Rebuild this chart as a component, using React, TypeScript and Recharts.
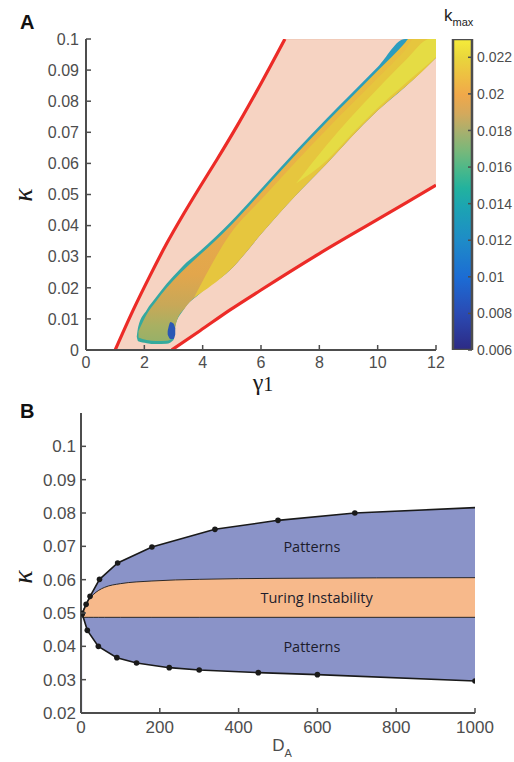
import React from 'react'
import { ComposedChart, BarChart, Bar, Area, Line, XAxis, YAxis, ReferenceDot } from 'recharts'

// ---------- panel A ----------
const GAMMA_TICKS = [0, 2, 4, 6, 8, 10, 12]
const KAPPA_TICKS_A = [0, 0.01, 0.02, 0.03, 0.04, 0.05, 0.06, 0.07, 0.08, 0.09, 0.1]

// unstable (pink) region
const PINK_G = [1, 1.62, 2.2, 2.77, 2.94, 3.91, 4.48, 5.2, 6, 6.82, 8, 10, 12]
const PINK_LO = [0, 0, 0, 0, 0, 0.0062, 0.0098, 0.0145, 0.0193, 0.0244, 0.031, 0.042, 0.053]
const PINK_HI = [0, 0.0129, 0.024, 0.0343, 0.0373, 0.0525, 0.0611, 0.0724, 0.0857, 0.1, 0.1, 0.1, 0.1]

// red boundary curves
const RED_LEFT_G = [1, 1.62, 2.2, 2.77, 3.35, 3.91, 4.48, 5.2, 6, 6.82]
const RED_LEFT_K = [0, 0.0129, 0.024, 0.0343, 0.0438, 0.0525, 0.0611, 0.0724, 0.0857, 0.1]
const RED_RIGHT_G = [2.94, 3.91, 4.94, 6, 8, 10, 12]
const RED_RIGHT_K = [0, 0.0062, 0.0129, 0.0193, 0.031, 0.042, 0.053]

// k_max band, outer (teal) edge
const BAND_G = [1.74, 1.79, 2.08, 2.4, 2.77, 3.0, 3.05, 3.34, 3.91, 4.94, 6.07, 7.22, 8.26, 9.05, 10.0, 10.94, 12.0]
const BAND_LO = [0.0043, 0.0028, 0.0022, 0.0019, 0.002, 0.0032, 0.0075, 0.0129, 0.0182, 0.0257, 0.038, 0.05, 0.06, 0.068, 0.077, 0.0846, 0.094]
const BAND_HI = [0.0043, 0.0075, 0.0129, 0.017, 0.0214, 0.0238, 0.0243, 0.0272, 0.0318, 0.041, 0.0525, 0.0643, 0.0745, 0.082, 0.091, 0.1, 0.1]

// inside the teal rim
const MID_G = [1.8, 2.08, 2.4, 2.77, 3.0, 3.1, 3.4, 3.91, 4.94, 6.07, 7.22, 8.26, 9.05, 10.0, 10.94, 11.05, 12.0]
const MID_LO = [0.004, 0.0032, 0.0029, 0.003, 0.0042, 0.009, 0.0136, 0.0184, 0.0257, 0.038, 0.05, 0.06, 0.068, 0.077, 0.0846, 0.0855, 0.094]
const MID_HI = [0.006, 0.0114, 0.0156, 0.02, 0.0224, 0.0234, 0.0262, 0.0306, 0.0398, 0.0513, 0.0631, 0.0733, 0.0808, 0.0898, 0.0988, 0.1, 0.1]

// yellow-ochre core
const CORE_G = [3.7, 4.94, 6.07, 7.22, 8.26, 9.05, 10.0, 10.94, 11.25, 12.0]
const CORE_LO = [0.0168, 0.0258, 0.0381, 0.0501, 0.0601, 0.0681, 0.0771, 0.0847, 0.0872, 0.094]
const CORE_HI = [0.0168, 0.0372, 0.049, 0.0608, 0.071, 0.0785, 0.0875, 0.0965, 0.1, 0.1]

// bright yellow streak
const BRIGHT_G = [7.2, 8.26, 9.05, 10.0, 10.94, 11.8, 12.0]
const BRIGHT_LO = [0.0535, 0.061, 0.0688, 0.0778, 0.0856, 0.0925, 0.0942]
const BRIGHT_HI = [0.0535, 0.066, 0.0745, 0.084, 0.093, 0.1, 0.1]

// dark blue spot near the tip
const SPOT_G = [2.8, 2.9, 3.0, 3.06]
const SPOT_LO = [0.005, 0.0035, 0.0035, 0.005]
const SPOT_HI = [0.006, 0.009, 0.0085, 0.007]

// colorbar
const CBAR_RANGE = [0.006, 0.023]
const CBAR_TICKS = [0.006, 0.008, 0.01, 0.012, 0.014, 0.016, 0.018, 0.02, 0.022]

// ---------- panel B ----------
const D_TICKS = [0, 200, 400, 600, 800, 1000]
const KAPPA_TICKS_B = [0.02, 0.03, 0.04, 0.05, 0.06, 0.07, 0.08, 0.09, 0.1]

const UPPER_D = [3, 13, 23, 47, 93, 180, 340, 500, 695, 1000]
const UPPER_K = [0.0498, 0.0526, 0.055, 0.0601, 0.065, 0.0698, 0.0751, 0.0778, 0.08, 0.0816]
const LOWER_D = [3, 16, 44, 91, 141, 224, 300, 450, 600, 1000]
const LOWER_K = [0.0498, 0.0448, 0.04, 0.0366, 0.035, 0.0336, 0.0329, 0.0321, 0.0315, 0.0296]

const TURING_D = [3, 10, 20, 31, 45, 60, 100, 180, 300, 500, 1000]
const TURING_HI = [0.0498, 0.052, 0.054, 0.0555, 0.0568, 0.0577, 0.0588, 0.0596, 0.0601, 0.0604, 0.0606]
const TURING_FLOOR = 0.0487

const REGION_TEXT = ['Patterns', 'Turing Instability', 'Patterns']
const REGION_D = [586, 598, 586]
const REGION_K = [0.0697, 0.0545, 0.0398]

const range = (xs: number[], lo: number[], hi: number[], key: string) =>
  xs.map((x, i) => ({ [key]: x, range: [lo[i], hi[i]] }))
const pts = (xs: number[], ys: number[], key: string) => xs.map((x, i) => ({ [key]: x, k: ys[i] }))

const pink = range(PINK_G, PINK_LO, PINK_HI, 'g')
const band = range(BAND_G, BAND_LO, BAND_HI, 'g')
const mid = range(MID_G, MID_LO, MID_HI, 'g')
const core = range(CORE_G, CORE_LO, CORE_HI, 'g')
const bright = range(BRIGHT_G, BRIGHT_LO, BRIGHT_HI, 'g')
const spot = range(SPOT_G, SPOT_LO, SPOT_HI, 'g')
const redLeft = pts(RED_LEFT_G, RED_LEFT_K, 'g')
const redRight = pts(RED_RIGHT_G, RED_RIGHT_K, 'g')

const upper = pts(UPPER_D, UPPER_K, 'd')
const lower = pts(LOWER_D, LOWER_K, 'd')
const turing = TURING_D.map((d, i) => ({ d, range: [TURING_FLOOR, TURING_HI[i]] }))

const AX = '#4d4d4d'
const SANS = '"Liberation Sans", Arial, Helvetica, sans-serif'
const SERIF = '"Liberation Serif", "DejaVu Serif", serif'

const leftTick = (fontSize: number, gap: number) => (p: any) => (
  <g>
    <line x1={p.x} y1={p.y} x2={p.x + 5} y2={p.y} stroke={AX} strokeWidth={1.5} />
    <text x={p.x - gap} y={p.y} dy="0.36em" textAnchor="end" fontSize={fontSize} fontFamily={SANS} fill={AX}>
      {String(p.payload.value)}
    </text>
  </g>
)
const bottomTick = (fontSize: number, gap: number) => (p: any) => (
  <g>
    <line x1={p.x} y1={p.y} x2={p.x} y2={p.y - 5} stroke={AX} strokeWidth={1.5} />
    <text x={p.x} y={p.y + gap} textAnchor="middle" fontSize={fontSize} fontFamily={SANS} fill={AX}>
      {String(p.payload.value)}
    </text>
  </g>
)
const topTick = (p: any) => <line x1={p.x} y1={p.y} x2={p.x} y2={p.y + 5} stroke={AX} strokeWidth={1.5} />
const rightTick = (p: any) => <line x1={p.x} y1={p.y} x2={p.x - 5} y2={p.y} stroke={AX} strokeWidth={1.5} />
const cbarTick = (p: any) => (
  <g>
    <line x1={p.x} y1={p.y} x2={p.x - 4} y2={p.y} stroke={AX} strokeWidth={1.5} />
    <text x={p.x + 5} y={p.y} dy="0.36em" fontSize={14} fontFamily={SANS} fill={AX}>
      {String(p.payload.value)}
    </text>
  </g>
)

const kappaLabel = (dy: number) => (p: any) => {
  const vb = p.viewBox
  const x = vb.x + 24
  const y = vb.y + dy
  return (
    <text x={x} y={y} transform={`rotate(-90 ${x} ${y})`} textAnchor="middle" dy="0.3em"
      fontSize={28} fontStyle="italic" fontFamily={SERIF} fill="#1a1a1a">
      κ
    </text>
  )
}

const gammaLabel = (p: any) => {
  const vb = p.viewBox
  return (
    <text x={vb.x + vb.width / 2 + 2} y={vb.y + 40} textAnchor="middle" fontFamily={SERIF} fill="#1a1a1a">
      <tspan fontSize={24}>γ</tspan>
      <tspan fontSize={20} dy={1}>1</tspan>
    </text>
  )
}

const dALabel = (p: any) => {
  const vb = p.viewBox
  return (
    <text x={vb.x + vb.width / 2 + 4} y={vb.y + 38} textAnchor="middle" fontFamily={SANS} fill={AX}>
      <tspan fontSize={17}>D</tspan>
      <tspan fontSize={11} dy={6}>A</tspan>
    </text>
  )
}

const regionLabel = (text: string) => (p: any) => {
  const vb = p.viewBox
  return (
    <text x={vb.x + vb.width / 2} y={vb.y + vb.height / 2} dy="0.35em" textAnchor="middle"
      fontSize={14.5} fontFamily='"Open Sans", "Noto Sans", sans-serif' fill="#1c1c2c">
      {text}
    </text>
  )
}

const upperDot = (p: any) =>
  p.index === UPPER_D.length - 1 ? <g key={p.index} /> : <circle key={p.index} cx={p.cx} cy={p.cy} r={2.8} fill="#1a1a1a" />
const lowerDot = (p: any) => <circle key={p.index} cx={p.cx} cy={p.cy} r={2.8} fill="#1a1a1a" />

function PanelA() {
  return (
    <ComposedChart width={450} height={400} margin={{ top: 39, right: 14, bottom: 20, left: 0 }}>
      <defs>
        <linearGradient id="midGrad" x1="0" y1="0" x2="0" y2="1">
          <stop offset="0%" stopColor="#e8c040" />
          <stop offset="55%" stopColor="#e9ae48" />
          <stop offset="78%" stopColor="#e2a64c" />
          <stop offset="88%" stopColor="#c8a858" />
          <stop offset="95%" stopColor="#a8b062" />
          <stop offset="100%" stopColor="#98b068" />
        </linearGradient>
        <linearGradient id="rimGrad" x1="0" y1="0" x2="0" y2="1">
          <stop offset="0%" stopColor="#2b9cc0" />
          <stop offset="100%" stopColor="#36aa9c" />
        </linearGradient>
      </defs>
      <Area data={pink} dataKey="range" type="linear" fill="#f6d3c2" fillOpacity={1} stroke="#ecc3b0" strokeWidth={1} isAnimationActive={false} />
      <Area data={band} dataKey="range" type="monotone" fill="url(#rimGrad)" fillOpacity={1} stroke="none" isAnimationActive={false} />
      <Area data={mid} dataKey="range" type="monotone" fill="url(#midGrad)" fillOpacity={1} stroke="none" isAnimationActive={false} />
      <Area data={core} dataKey="range" type="monotone" fill="#e6c63e" fillOpacity={1} stroke="none" isAnimationActive={false} />
      <Area data={bright} dataKey="range" type="monotone" fill="#e5dc44" fillOpacity={1} stroke="none" isAnimationActive={false} />
      <Area data={spot} dataKey="range" type="monotone" fill="#2b58b4" fillOpacity={1} stroke="none" isAnimationActive={false} />
      <Line data={redLeft} dataKey="k" type="monotone" stroke="#ec2b27" strokeWidth={3.2} dot={false} isAnimationActive={false} />
      <Line data={redRight} dataKey="k" type="monotone" stroke="#ec2b27" strokeWidth={3.2} dot={false} isAnimationActive={false} />
      <XAxis type="number" dataKey="g" domain={[0, 12]} ticks={GAMMA_TICKS} interval={0} allowDataOverflow
        height={30} tickSize={0} tickMargin={0} tickLine={false} axisLine={{ stroke: AX, strokeWidth: 2 }}
        tick={bottomTick(16, 18)} label={{ content: gammaLabel }} />
      <YAxis type="number" domain={[0, 0.1]} ticks={KAPPA_TICKS_A} interval={0} allowDataOverflow
        width={86} tickSize={0} tickMargin={0} tickLine={false} axisLine={{ stroke: AX, strokeWidth: 2 }}
        tick={leftTick(16, 7)} label={{ content: kappaLabel(156) }} />
    </ComposedChart>
  )
}

function ColorBar() {
  return (
    <BarChart width={69} height={400} data={[{ name: 'kmax', span: CBAR_RANGE }]}
      margin={{ top: 39, right: 0, bottom: 50, left: 8 }} barCategoryGap={0} barGap={0}>
      <defs>
        <linearGradient id="parula" x1="0" y1="0" x2="0" y2="1">
          <stop offset="0%" stopColor="#f6ec3a" />
          <stop offset="6%" stopColor="#e9d63c" />
          <stop offset="12%" stopColor="#eebf42" />
          <stop offset="18%" stopColor="#f0a84a" />
          <stop offset="24%" stopColor="#d4a95c" />
          <stop offset="30%" stopColor="#a6b06e" />
          <stop offset="36%" stopColor="#78b87a" />
          <stop offset="42%" stopColor="#4ab88a" />
          <stop offset="48%" stopColor="#22b29e" />
          <stop offset="54%" stopColor="#1ca4b2" />
          <stop offset="65%" stopColor="#1e8bc8" />
          <stop offset="77%" stopColor="#1c6bd4" />
          <stop offset="88%" stopColor="#2a4bb4" />
          <stop offset="100%" stopColor="#2d2a84" />
        </linearGradient>
      </defs>
      <XAxis dataKey="name" hide />
      <YAxis orientation="right" type="number" domain={[0.006, 0.023]} ticks={CBAR_TICKS} interval={0} allowDataOverflow
        width={42} tickSize={0} tickMargin={0} tickLine={false} axisLine={false} tick={cbarTick} />
      <Bar dataKey="span" fill="url(#parula)" stroke={AX} strokeWidth={2.5} isAnimationActive={false} />
    </BarChart>
  )
}

function PanelB() {
  return (
    <ComposedChart width={514} height={382} margin={{ top: 33, right: 39, bottom: 19, left: 0 }}>
      <Area data={upper} dataKey="k" type="linear" baseValue={0.02} fill="#8a93c8" fillOpacity={1} stroke="none" isAnimationActive={false} />
      <Area data={lower} dataKey="k" type="linear" baseValue={0.02} fill="#ffffff" fillOpacity={1} stroke="none" isAnimationActive={false} />
      <Area data={turing} dataKey="range" type="monotone" fill="#f7b98b" fillOpacity={1} stroke="#1a1a1a" strokeWidth={0.9} isAnimationActive={false} />
      <Line data={upper} dataKey="k" type="linear" stroke="#1a1a1a" strokeWidth={1.6} dot={upperDot} isAnimationActive={false} />
      <Line data={lower} dataKey="k" type="linear" stroke="#1a1a1a" strokeWidth={1.6} dot={lowerDot} isAnimationActive={false} />
      {REGION_TEXT.map((t, i) => (
        <ReferenceDot key={i} x={REGION_D[i]} y={REGION_K[i]} r={0} stroke="none" fill="none" label={{ content: regionLabel(t) }} />
      ))}
      <XAxis type="number" dataKey="d" domain={[0, 1000]} ticks={D_TICKS} interval={0} allowDataOverflow
        height={30} tickSize={0} tickMargin={0} tickLine={false} axisLine={{ stroke: AX, strokeWidth: 2 }}
        tick={bottomTick(17, 20)} label={{ content: dALabel }} />
      <XAxis xAxisId="t" orientation="top" type="number" domain={[0, 1000]} ticks={D_TICKS} interval={0} allowDataOverflow
        height={0} tickSize={0} tickMargin={0} tickLine={false} axisLine={{ stroke: AX, strokeWidth: 2 }} tick={topTick} />
      <YAxis type="number" domain={[0.02, 0.11]} ticks={KAPPA_TICKS_B} interval={0} allowDataOverflow
        width={81} tickSize={0} tickMargin={0} tickLine={false} axisLine={{ stroke: AX, strokeWidth: 2 }}
        tick={leftTick(17, 5)} label={{ content: kappaLabel(164) }} />
      <YAxis yAxisId="r" orientation="right" type="number" domain={[0.02, 0.11]} ticks={KAPPA_TICKS_B} interval={0} allowDataOverflow
        width={0} tickSize={0} tickMargin={0} tickLine={false} axisLine={{ stroke: AX, strokeWidth: 2 }} tick={rightTick} />
    </ComposedChart>
  )
}

const letter: React.CSSProperties = {
  position: 'absolute', fontFamily: SANS, fontWeight: 'bold', fontSize: 20, color: '#111', lineHeight: 1,
}

export default function App() {
  return (
    <div style={{ position: 'absolute', left: 0, top: 0, width: 514, height: 762, background: '#fff', overflow: 'hidden' }}>
      <div style={{ position: 'absolute', left: 0, top: 0 }}><PanelA /></div>
      <div style={{ position: 'absolute', left: 445, top: 0 }}><ColorBar /></div>
      <div style={{ position: 'absolute', left: 0, top: 380 }}><PanelB /></div>
      <div style={{ ...letter, left: 20, top: 12 }}>A</div>
      <div style={{ ...letter, left: 20, top: 401 }}>B</div>
      <div style={{ position: 'absolute', left: 444, top: 6, fontFamily: SANS, fontSize: 17, color: '#222' }}>
        k<span style={{ fontSize: 11, verticalAlign: -5 }}>max</span>
      </div>
    </div>
  )
}
